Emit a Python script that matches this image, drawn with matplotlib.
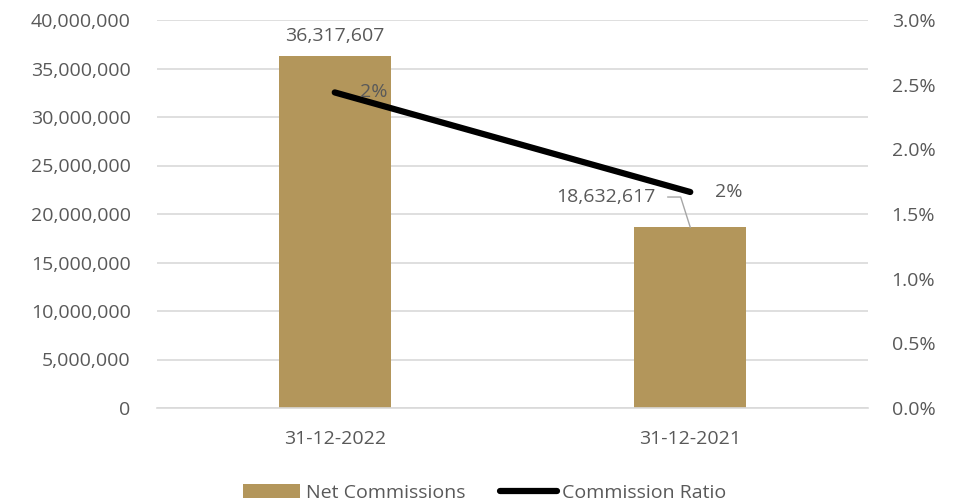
import matplotlib.pyplot as plt
import numpy as np

categories = ['31-12-2022', '31-12-2021']
net_commissions = [36317607, 18632617]
commission_ratio = [2.44, 1.67]  # percent
ratio_labels = ['2%', '2%']

gold = '#b3965b'
grey = '#595959'
fs = 14
plt.rcParams['font.family'] = ['Open Sans', 'DejaVu Sans']

fig = plt.figure(figsize=(9.64, 5.04), dpi=100)
ax = fig.add_axes([157 / 964, 1 - 408 / 504, 711 / 964, 388 / 504])
ax2 = ax.twinx()

x = np.arange(len(categories))
ax.bar(x, net_commissions, width=0.315, color=gold, label='Net Commissions', zorder=2)
ax.set_xlim(-0.5, 1.5)
ax.set_ylim(0, 40000000)
ax.set_yticks(np.arange(0, 40000001, 5000000))
ax.yaxis.set_major_formatter(plt.FuncFormatter(lambda v, p: f'{int(v):,}'))
ax.grid(axis='y', color='#d9d9d9', linewidth=1.2, zorder=0)
ax.set_axisbelow(True)
ax.set_xticks(x)
ax.set_xticklabels(categories)

ax2.plot(x, commission_ratio, color='black', linewidth=4.5, solid_capstyle='round',
         label='Commission Ratio', zorder=3)
ax2.set_ylim(0, 3.0)
ax2.set_yticks(np.arange(0, 3.01, 0.5))
ax2.yaxis.set_major_formatter(plt.FuncFormatter(lambda v, p: f'{v:.1f}%'))

for a in (ax, ax2):
    for s in ('top', 'left', 'right'):
        a.spines[s].set_visible(False)
    a.tick_params(length=0, labelsize=fs, labelcolor=grey)
ax.spines['bottom'].set_color('#d9d9d9')
ax.spines['bottom'].set_linewidth(1.2)
ax2.spines['bottom'].set_visible(False)
ax.tick_params(axis='y', pad=19)
ax.tick_params(axis='x', pad=16)
ax2.tick_params(axis='y', pad=17)

# data labels
ax.annotate(f'{net_commissions[0]:,}', (x[0], net_commissions[0]), xytext=(0, 8),
            textcoords='offset points', ha='center', va='bottom', fontsize=fs, color=grey)
ax.annotate(f'{net_commissions[1]:,}', (x[1], net_commissions[1]), xytext=(-61, 22),
            textcoords='offset points', ha='center', va='center', fontsize=fs, color=grey)
ax.plot([x[1] - 0.063, x[1] - 0.027, x[1]],
        [21750000, 21750000, net_commissions[1]], color='#a6a6a6', linewidth=1, zorder=4)
ax2.annotate(ratio_labels[0], (x[0], commission_ratio[0]), xytext=(28, 0),
             textcoords='offset points', ha='center', va='center', fontsize=fs, color=grey, zorder=5)
ax2.annotate(ratio_labels[1], (x[1], commission_ratio[1]), xytext=(28, 0),
             textcoords='offset points', ha='center', va='center', fontsize=fs, color=grey)

h1, l1 = ax.get_legend_handles_labels()
h2, l2 = ax2.get_legend_handles_labels()
fig.legend(h1 + h2, l1 + l2, loc='center', bbox_to_anchor=(485 / 964, 1 - 493 / 504),
           ncol=2, frameon=False, fontsize=fs, labelcolor=grey, handlelength=2.9,
           handletextpad=0.3, columnspacing=1.8)

fig.savefig('out.png', dpi=100)
